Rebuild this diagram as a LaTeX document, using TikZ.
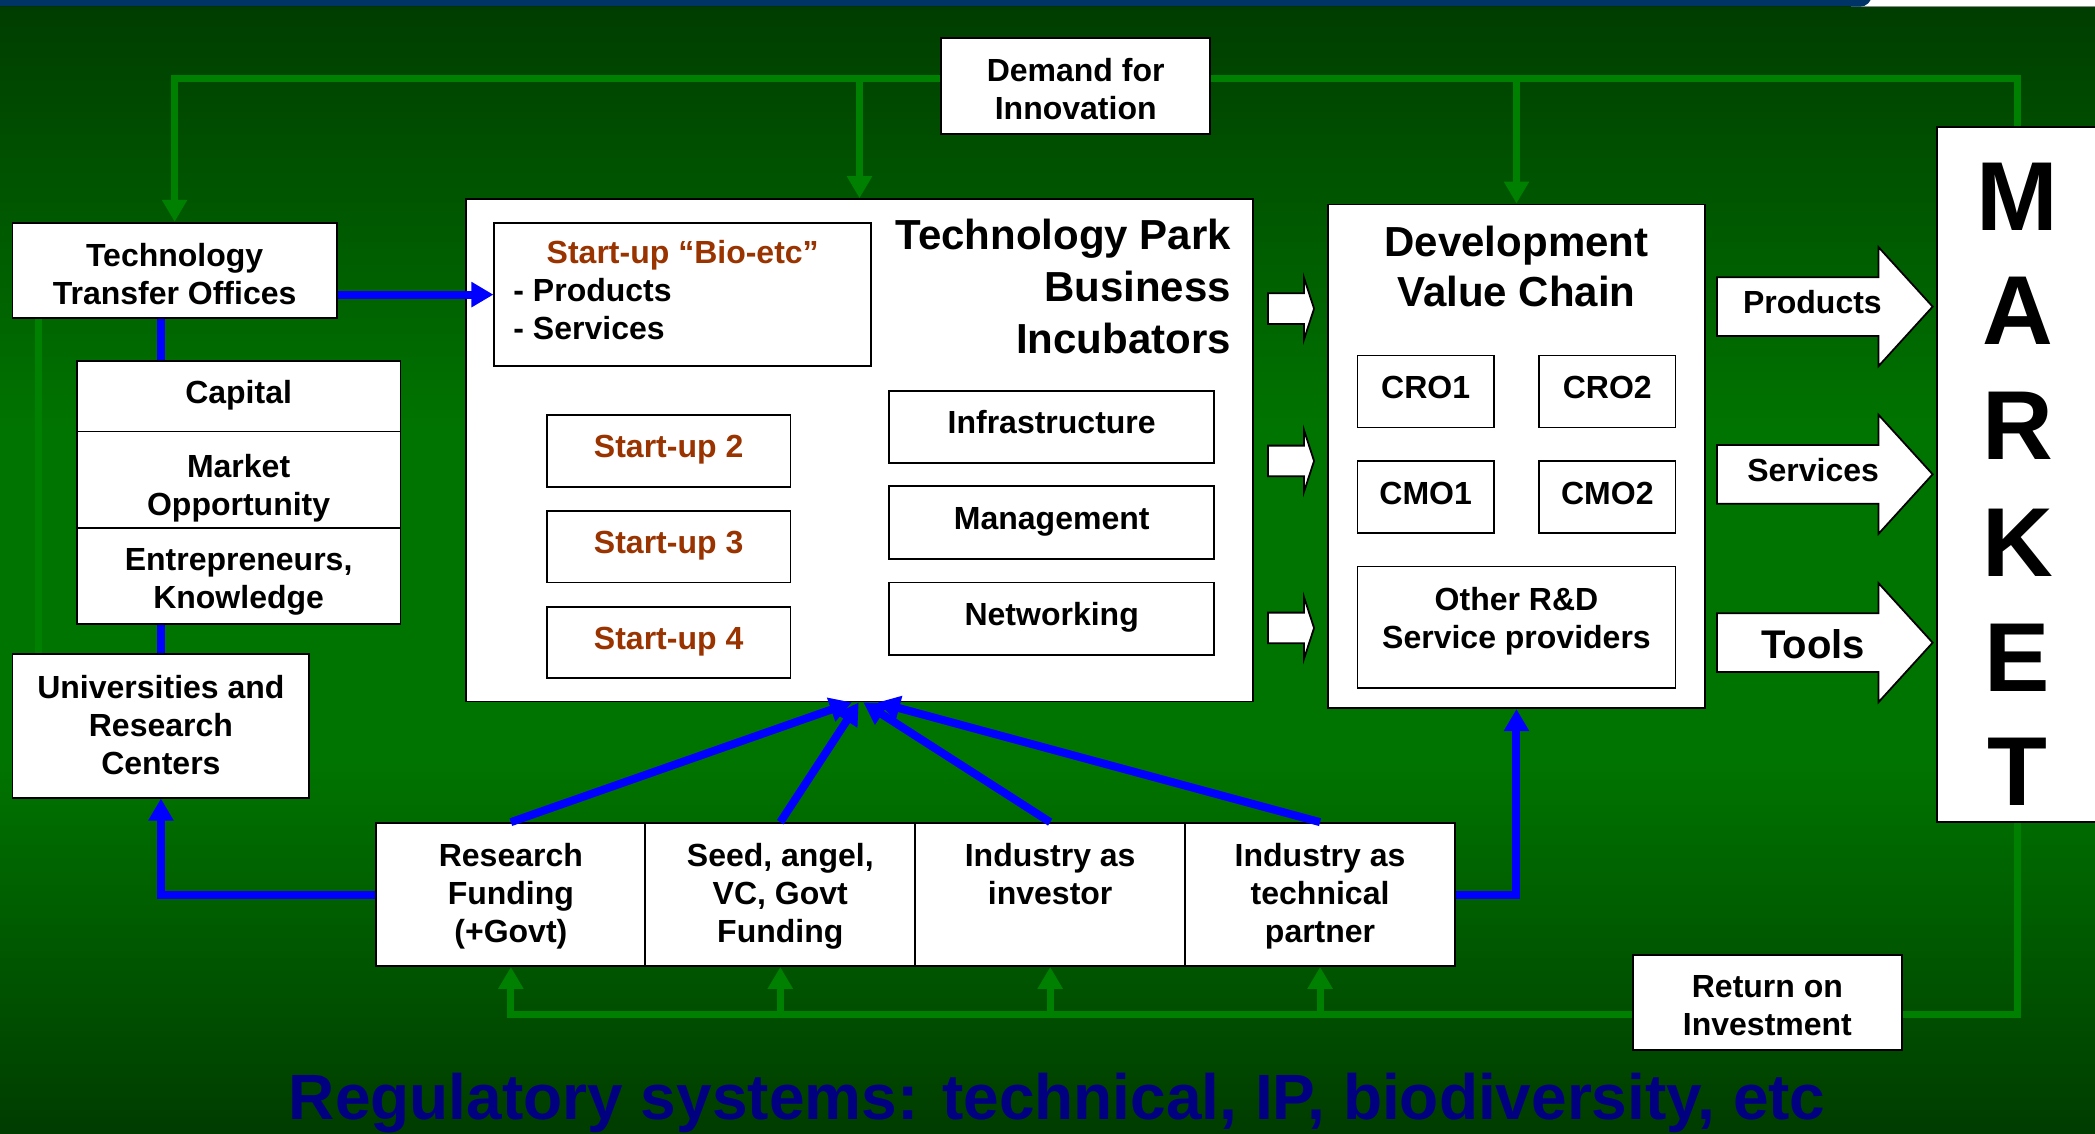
\documentclass[tikz,border=0pt]{standalone}
\usepackage{fontspec}
\setmainfont{Liberation Sans}
\usetikzlibrary{arrows.meta,fit,calc}
\pgfdeclarelayer{bgl}
\pgfdeclarelayer{lnl}
\pgfsetlayers{bgl,lnl,main}
\definecolor{gline}{HTML}{008000}
\definecolor{bline}{HTML}{0000FF}
\definecolor{startc}{HTML}{993300}
\definecolor{regc}{HTML}{000080}
\definecolor{bgdark}{HTML}{003C00}
\definecolor{bgmid}{HTML}{007400}
\definecolor{barblue}{HTML}{003366}
\newcommand\lbl{\fontsize{16}{19}\selectfont\bfseries}
\newcommand\ttl{\fontsize{21}{26}\selectfont\bfseries}
\newcommand\bx[3]{\node[box, fit={#2 #3}] (#1) {};}
\begin{document}
\begin{tikzpicture}[x=0.668pt,y=-0.668pt,
  box/.style={draw=black, line width=0.9pt, fill=white, inner sep=0pt},
  txt/.style={align=center, font=\lbl, inner sep=0pt},
  one/.style={txt, text height=11.7pt, text depth=4.6pt},
  gl/.style={draw=gline, line width=3.5pt, line cap=rect},
  bl/.style={draw=bline, line width=4pt},
  ga/.style={gl, -{Triangle[length=11pt,width=12pt]}},
  ba/.style={bl, -{Triangle[length=11pt,width=12pt]}},
  fat/.style={draw=black, line width=0.9pt, fill=white, line join=miter},
]
\useasboundingbox (0,0) rectangle (1568,848);
\begin{pgfonlayer}{bgl}
\begin{scope}
  \clip (0,0) rectangle (1568,848);
  \shade[top color=bgdark, bottom color=bgmid] (0,0) rectangle (1568,321);
  \fill[bgmid] (0,320) rectangle (1568,571);
  \shade[top color=bgmid, bottom color=bgdark] (0,570) rectangle (1568,848);
  \fill[white] (1380,0) rectangle (1568,4.5);
  \fill[black!45] (1380,4.5) rectangle (1568,5.4);
  \fill[barblue, rounded corners=6pt] (-20,-20) rectangle (1401,5);
  \fill[black!60!gline] (0,4.6) rectangle (1385,5.6);
\end{scope}
\end{pgfonlayer}

% ---------- boxes ----------
\bx{dem}{(704.5,28.7)}{(905.7,100.3)}
\bx{tto}{(9.4,166.7)}{(252,238)}
\bx{cap}{(57.5,270)}{(299.7,323)}
\bx{mkt}{(57.5,323)}{(299.7,395)}
\bx{ent}{(57.5,395)}{(299.7,467)}
\bx{univ}{(9.4,489.7)}{(231.5,597)}
\bx{tpark}{(349,149)}{(937.6,525)}
\bx{sbio}{(370,167)}{(652,274)}
\bx{s2}{(409.3,310.6)}{(591.6,364.3)}
\bx{s3}{(409.3,382.2)}{(591.6,436)}
\bx{s4}{(409.3,454)}{(591.6,507.5)}
\bx{infra}{(665.6,292.4)}{(908.7,346.3)}
\bx{mgmt}{(665.6,363.8)}{(908.7,418.4)}
\bx{netw}{(665.6,435.9)}{(908.7,490.3)}
\bx{dvc}{(994,153)}{(1276,530)}
\bx{cro1}{(1016,266)}{(1118,320)}
\bx{cro2}{(1152,266)}{(1254,320)}
\bx{cmo1}{(1016,345)}{(1118,399)}
\bx{cmo2}{(1152,345)}{(1254,399)}
\bx{ord}{(1016,424)}{(1254,514.7)}
\bx{market}{(1450,95)}{(1600,615)}
\bx{f1}{(281.7,616)}{(483,723)}
\bx{f2}{(483,616)}{(685,723)}
\bx{f3}{(685,616)}{(887,723)}
\bx{f4}{(887,616)}{(1089,723)}
\bx{roi}{(1222,715)}{(1423.6,786)}

% ---------- texts ----------
\node[txt, anchor=north] (demt) at (dem.north |- 0,43.6) {Demand for\\Innovation};
\node[txt, anchor=north] (ttot) at (tto.north |- 0,182.1) {Technology\\Transfer Offices};
\node[one] (capt) at (cap.center) {Capital};
\node[txt, anchor=north] (mktt) at (mkt.north |- 0,339.8) {Market\\Opportunity};
\node[txt, anchor=north] (entt) at (ent.north |- 0,410.4) {Entrepreneurs,\\Knowledge};
\node[txt, anchor=north] (univt) at (univ.north |- 0,505.2) {Universities and\\Research\\Centers};

\node[txt, anchor=base, text=startc] (sbt) at (sbio.north |- 0,197) {Start-up “Bio-etc”};
\node[txt, anchor=base west] (sbp) at (384,226) {- Products};
\node[txt, anchor=base west] (sbs) at (384,254.4) {- Services};
\node[one, text=startc] (s2t) at (s2.center) {Start-up 2};
\node[one, text=startc] (s3t) at (s3.center) {Start-up 3};
\node[one, text=startc] (s4t) at (s4.center) {Start-up 4};
\node[one] (infrat) at (infra.center) {Infrastructure};
\node[one] (mgmtt) at (mgmt.center) {Management};
\node[one] (netwt) at (netw.center) {Networking};
\node[anchor=base east, font=\ttl, inner sep=0pt] (tp1) at (921.5,187) {Technology Park};
\node[anchor=base east, font=\ttl, inner sep=0pt] (tp2) at (921.5,226) {Business};
\node[anchor=base east, font=\ttl, inner sep=0pt] (tp3) at (921.5,264.5) {Incubators};

\node[anchor=base, font=\ttl, inner sep=0pt] (dv1) at (dvc.north |- 0,192) {Development};
\node[anchor=base, font=\ttl, inner sep=0pt] (dv2) at (dvc.north |- 0,229.5) {Value Chain};
\node[one] (cro1t) at (cro1.center) {CRO1};
\node[one] (cro2t) at (cro2.center) {CRO2};
\node[one] (cmo1t) at (cmo1.center) {CMO1};
\node[one] (cmo2t) at (cmo2.center) {CMO2};
\node[txt, anchor=north] (ordt) at (ord.north |- 0,439) {Other R\&D\\Service providers};

\node[txt, anchor=north] (f1t) at (f1.north |- 0,631) {Research\\Funding\\(+Govt)};
\node[txt, anchor=north] (f2t) at (f2.north |- 0,631) {Seed, angel,\\VC, Govt\\Funding};
\node[txt, anchor=north] (f3t) at (f3.north |- 0,631) {Industry as\\investor};
\node[txt, anchor=north] (f4t) at (f4.north |- 0,631) {Industry as\\technical\\partner};
\node[txt, anchor=north] (roit) at (roi.north |- 0,729.8) {Return on\\Investment};

\foreach \l/\yy [count=\i] in {M/147,A/232.5,R/319,K/406,E/492,T/578}
  \node[inner sep=0pt, font=\fontsize{49}{55}\selectfont\bfseries] (mk\i) at (1510,\yy) {\l};

% ---------- fat arrows ----------
\foreach \c in {229.5,355,481}
  \draw[fat] (1285,{\c-22}) -- (1406,{\c-22}) -- (1406,{\c-44.5}) -- (1446.5,\c)
     -- (1406,{\c+44.5}) -- (1406,{\c+22}) -- (1285,{\c+22}) -- cycle;
\node[txt] (prodt) at (1356.5,226) {Products};
\node[txt] (servt) at (1357,352) {Services};
\node[txt, font=\fontsize{20}{24}\selectfont\bfseries] (toolt) at (1357,482) {Tools};

\foreach \c in {231,345,470}
  \draw[fat] (949,{\c-11.5}) -- (976,{\c-11.5}) -- (976,{\c-23}) -- (983.5,\c)
     -- (976,{\c+23}) -- (976,{\c+11.5}) -- (949,{\c+11.5}) -- cycle;

% ---------- green connectors ----------
\begin{pgfonlayer}{lnl}
\coordinate (gtl) at (130.7,59);
\coordinate (gtr) at (1510,59);
\coordinate (gbr) at (1510,759);
\coordinate (lgx) at (29,0);
\draw[ga] (market.north -| gtr) -- (gtr) -- (gtl) -- (tto.north);
\draw[ga] (tpark.north |- gtl) -- (tpark.north);
\draw[ga] (dvc.north |- gtl) -- (dvc.north);
\draw[gl] (market.south -| gbr) -- (gbr) -- (f1.south |- gbr);
\foreach \f in {f1,f2,f3,f4}
  \draw[ga] (\f.south |- gbr) -- (\f.south);
\draw[gl] (tto.south -| lgx) -- (univ.north -| lgx);
\end{pgfonlayer}

% ---------- blue connectors ----------
\draw[ba] (tto.east |- sbio.west) -- (sbio.west);
\draw[bl] (tto.south -| univ.north) -- (cap.north -| univ.north);
\draw[bl] (ent.south -| univ.north) -- (univ.north);
\draw[ba] (f1.west) -- (f1.west -| univ.south) -- (univ.south);
\draw[ba] (f4.east) -- (f4.east -| dvc.south) -- (dvc.south);
\foreach \f/\dx in {f1/-5.7,f2/-0.6,f3/2.9,f4/13.7}
  \draw[ba] (\f.north) -- ($(tpark.south)+(\dx,0)$);

% ---------- bottom title ----------
\node[anchor=base, text=regc, font=\fontsize{32}{38}\selectfont\bfseries, inner sep=0pt] (reg)
  at (791.3,838) {Regulatory systems: technical, IP, biodiversity, etc};
\end{tikzpicture}
\end{document}
